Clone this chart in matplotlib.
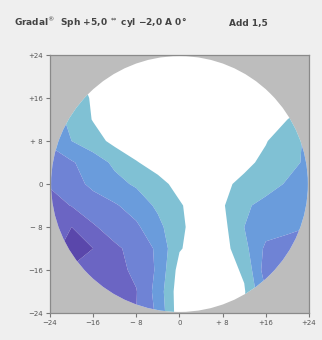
import numpy as np
import matplotlib
matplotlib.use("Agg")
import matplotlib.pyplot as plt
from matplotlib.patches import Circle

# grid positions (mm)
x_mm = [-24, -20, -16, -12, -8, -4, 0, 4, 8, 12, 16, 20, 24]
y_mm = [24, 20, 16, 12, 8, 4, 0, -4, -8, -12, -16, -20, -24]

# astigmatism values, one row per y_mm (top to bottom)
row_p24 = [0.9, 0.6, 0.3, 0.1, 0.05, 0.05, 0.05, 0.05, 0.05, 0.1, 0.2, 0.3, 0.4]
row_p20 = [1.0, 0.65, 0.3, 0.15, 0.08, 0.05, 0.05, 0.05, 0.05, 0.1, 0.2, 0.3, 0.4]
row_p16 = [1.1, 0.72, 0.45, 0.25, 0.12, 0.06, 0.05, 0.05, 0.08, 0.15, 0.3, 0.4, 0.45]
row_p12 = [1.25, 0.88, 0.47, 0.25, 0.12, 0.06, 0.05, 0.05, 0.08, 0.2, 0.35, 0.5, 0.7]
row_p8 = [1.4, 1.0, 0.72, 0.35, 0.2, 0.1, 0.06, 0.06, 0.12, 0.25, 0.47, 0.8, 1.1]
row_p4 = [1.8, 1.55, 1.25, 0.9, 0.53, 0.3, 0.15, 0.1, 0.2, 0.38, 0.62, 0.85, 1.1]
row_0 = [1.95, 1.7, 1.38, 1.15, 0.93, 0.65, 0.35, 0.15, 0.4, 0.62, 0.8, 1.05, 1.3]
row_m4 = [2.2, 1.98, 1.75, 1.55, 1.3, 0.9, 0.55, 0.25, 0.45, 0.92, 1.15, 1.3, 1.4]
row_m8 = [2.3, 2.5, 2.05, 1.8, 1.58, 1.15, 0.58, 0.3, 0.35, 1.0, 1.3, 1.42, 1.5]
row_m12 = [2.3, 2.72, 2.5, 2.08, 1.85, 1.4, 0.54, 0.25, 0.3, 0.85, 1.6, 1.65, 1.7]
row_m16 = [2.3, 2.45, 2.48, 2.15, 1.9, 1.42, 0.3, 0.15, 0.25, 0.58, 1.75, 1.8, 1.8]
row_m20 = [2.3, 2.35, 2.3, 2.2, 2.02, 1.3, 0.2, 0.1, 0.2, 0.45, 1.5, 1.8, 1.8]
row_m24 = [2.3, 2.3, 2.3, 2.2, 2.0, 1.4, 0.2, 0.1, 0.15, 0.5, 1.5, 1.8, 1.8]

levels = [0.5, 1.0, 1.5, 2.0, 2.5, 3.0]
level_colors = ["#80c1d4", "#6a9cdc", "#6f83d5", "#6b65c3", "#5a47ab"]

tick_vals = [-24, -16, -8, 0, 8, 16, 24]
tick_labels = ["\u221224", "\u221216", "\u2212 8", "0", "+ 8", "+16", "+24"]

Z = np.array([row_p24, row_p20, row_p16, row_p12, row_p8, row_p4, row_0,
              row_m4, row_m8, row_m12, row_m16, row_m20, row_m24])
X, Y = np.meshgrid(x_mm, y_mm)

fig = plt.figure(figsize=(3.22, 3.40), dpi=100, facecolor="#efefef")
ax = fig.add_axes([0.1553, 0.0794, 0.8043, 0.7588])
ax.set_facecolor("#bdbdbd")

R = 23.8
ax.add_patch(Circle((0, 0), R, facecolor="white", edgecolor="none", zorder=1))
cs = ax.contourf(X, Y, Z, levels=levels, colors=level_colors, zorder=2, antialiased=True)
clip = Circle((0, 0), R, transform=ax.transData)
cs.set_clip_path(clip)

ax.set_xlim(-24, 24)
ax.set_ylim(-24, 24)
ax.set_aspect("auto")
ax.set_xticks(tick_vals)
ax.set_xticklabels(tick_labels)
ax.set_yticks(tick_vals)
ax.set_yticklabels(tick_labels)
ax.tick_params(direction="out", length=3, width=0.8, colors="#777777",
               labelsize=5, labelcolor="#555555", pad=2)
for s in ax.spines.values():
    s.set_color("#8a8a8a")
    s.set_linewidth(0.9)

fig.text(0.043, 0.932, "Gradal$^{\\circledR}$  Sph +5,0 $^{\\Leftrightarrow}$ cyl \u22122,0 A 0\u00b0",
         fontsize=6.5, fontweight="bold", color="#444444", ha="left", va="center")
fig.text(0.712, 0.932, "Add 1,5", fontsize=6.5, fontweight="bold", color="#444444",
         ha="left", va="center")

fig.savefig("out.png", dpi=100, facecolor=fig.get_facecolor())
